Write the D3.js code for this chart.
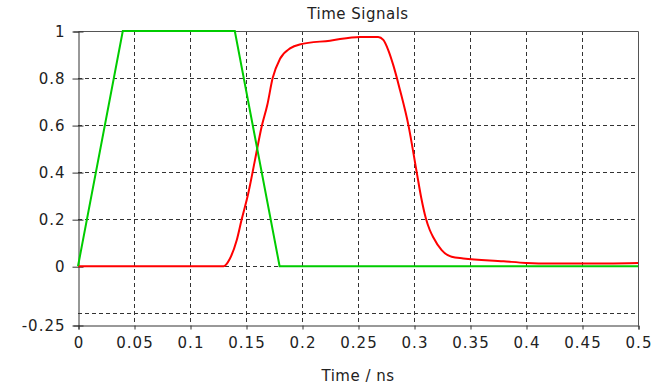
<!DOCTYPE html>
<html>
<head>
<meta charset="utf-8">
<script src="https://cdn.jsdelivr.net/npm/d3@7"></script>
<style>
  body { margin: 0; background: #fff; }
  text { font-family: "DejaVu Sans", Verdana, sans-serif; fill: #222; }
</style>
</head>
<body>
<svg width="662" height="385"></svg>
<script>
// Data (time in ns)
var greenT = [0, 0.04, 0.14, 0.18, 0.5];
var greenV = [0, 1, 1, 0, 0];

var redT = [0, 0.13, 0.1357, 0.1417, 0.146, 0.152, 0.158, 0.164, 0.169, 0.1738, 0.1804, 0.1893,
            0.198, 0.225, 0.2518, 0.268, 0.2726, 0.277, 0.2815, 0.2875, 0.295, 0.3024,
            0.3065, 0.3105, 0.314, 0.3173, 0.3247, 0.3336, 0.344, 0.38, 0.40, 0.421, 0.451, 0.5];
var redV = [0, 0, 0.033, 0.11, 0.196, 0.309, 0.451, 0.594, 0.685, 0.8, 0.882, 0.926,
            0.943, 0.959, 0.975, 0.975, 0.962, 0.919, 0.855, 0.749, 0.6, 0.4,
            0.29, 0.205, 0.155, 0.122, 0.068, 0.04, 0.033, 0.021, 0.014, 0.011, 0.011, 0.014];

var xTicks = [0, 0.05, 0.1, 0.15, 0.2, 0.25, 0.3, 0.35, 0.4, 0.45, 0.5];
var xGrid = [0.05, 0.1, 0.15, 0.2, 0.25, 0.3, 0.35, 0.4, 0.45];
var yTicks = [1, 0.8, 0.6, 0.4, 0.2, 0, -0.25];
var yGrid = [0.8, 0.6, 0.4, 0.2, 0, -0.2];

var svg = d3.select("svg");
var pLeft = 78, pRight = 638, pTop = 31, pBottom = 325;

var x = d3.scaleLinear().domain([0, 0.5]).range([pLeft, pRight]);
var y = d3.scaleLinear().domain([-0.25, 1]).range([pBottom, pTop]);

// grid
svg.append("g").selectAll("line").data(yGrid).enter().append("line")
    .attr("x1", pLeft).attr("x2", pRight)
    .attr("y1", function(d) { return Math.round(y(d)) + 0.5; })
    .attr("y2", function(d) { return Math.round(y(d)) + 0.5; })
    .attr("stroke", "#333").attr("stroke-dasharray", "4,3");
svg.append("g").selectAll("line").data(xGrid).enter().append("line")
    .attr("y1", pTop).attr("y2", pBottom)
    .attr("x1", function(d) { return Math.round(x(d)) + 0.5; })
    .attr("x2", function(d) { return Math.round(x(d)) + 0.5; })
    .attr("stroke", "#333").attr("stroke-dasharray", "4,3");

// frame
svg.append("path")
    .attr("d", "M" + (pLeft + 0.5) + "," + (pTop + 0.5) + "H" + (pRight + 0.5) + "V" + (pBottom + 0.5))
    .attr("fill", "none").attr("stroke", "#555");

// axes
var yAxis = d3.axisLeft(y).tickValues(yTicks).tickSize(5).tickPadding(8)
    .tickFormat(function(d) { return d; });
var gy = svg.append("g").attr("transform", "translate(" + (pLeft + 0.5) + ",0.5)").call(yAxis);
gy.selectAll(".tick line").attr("x2", -6).attr("x1", 5);

var xAxis = d3.axisBottom(x).tickValues(xTicks).tickSize(4).tickPadding(8)
    .tickFormat(function(d) { return d; });
var gx = svg.append("g").attr("transform", "translate(0.5," + (pBottom + 0.5) + ")").call(xAxis);

[gx, gy].forEach(function(g) {
    g.select(".domain").attr("stroke", "#333");
    g.selectAll(".tick line").attr("stroke", "#333");
    g.selectAll("text").style("font-size", "15px").style("letter-spacing", "1px")
        .attr("fill", "#222");
});

// lines
var line = d3.line()
    .x(function(d) { return x(d[0]); })
    .y(function(d) { return y(d[1]); });

svg.append("path")
    .datum(d3.zip(redT, redV))
    .attr("fill", "none").attr("stroke", "#ff0000").attr("stroke-width", 2)
    .attr("d", line.curve(d3.curveMonotoneX));

svg.append("path")
    .datum(d3.zip(greenT, greenV))
    .attr("fill", "none").attr("stroke", "#00cc00").attr("stroke-width", 2)
    .attr("d", line.curve(d3.curveLinear));

// titles
svg.append("text").attr("x", 358).attr("y", 19).attr("text-anchor", "middle")
    .style("font-size", "15px").style("letter-spacing", "0.5px").text("Time Signals");
svg.append("text").attr("x", 358).attr("y", 381).attr("text-anchor", "middle")
    .style("font-size", "15px").style("letter-spacing", "0.5px").text("Time / ns");
</script>
</body>
</html>
